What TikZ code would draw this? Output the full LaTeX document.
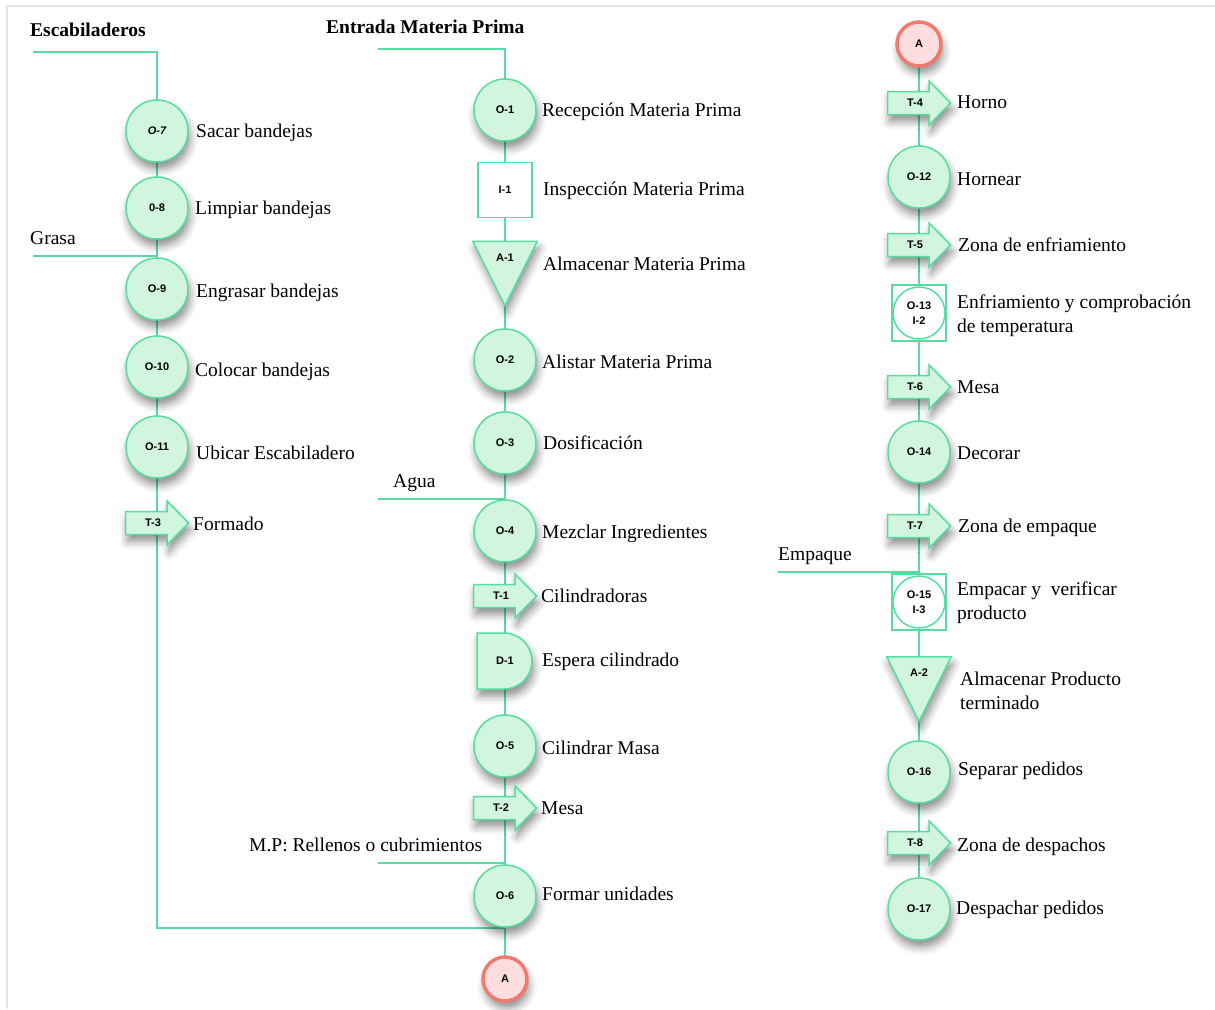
\documentclass[tikz,border=0pt]{standalone}
\usepackage{fontspec}
\setmainfont{Liberation Serif}
\newfontfamily\tagfont{Liberation Sans}
\usetikzlibrary{backgrounds,shadows.blur}

\definecolor{flowline}{RGB}{86,222,160}
\definecolor{flowfill}{RGB}{210,245,222}
\definecolor{linkfill}{RGB}{253,221,221}
\definecolor{linkline}{RGB}{240,122,110}
\definecolor{framegray}{RGB}{228,228,228}

\tikzset{
  x=1pt, y=-1pt,
  flow/.style={draw=flowline, line width=1.5pt},
  softshadow/.style={blur shadow={shadow xshift=2pt, shadow yshift=-7pt,
      shadow blur radius=8pt, shadow opacity=45}},
  tagtxt/.style={font=\tagfont\bfseries\fontsize{11}{15}\selectfont,
      inner sep=0pt, align=center},
  opcircle/.style={circle, draw=flowline, fill=flowfill, line width=1.5pt,
      minimum size=62pt, inner sep=0pt, tagtxt, softshadow},
  inspbox/.style={rectangle, draw=flowline, fill=white, line width=1.5pt,
      minimum width=54pt, minimum height=55pt, inner sep=0pt, tagtxt},
  tbox/.style={rectangle, minimum width=63pt, minimum height=44pt, inner sep=0pt},
  arrowshape/.style={draw=flowline, fill=flowfill, line width=1.5pt,
      line join=miter, softshadow},
  linkcircle/.style={circle, draw=linkline, fill=linkfill, line width=3.5pt,
      minimum size=44pt, inner sep=0pt, tagtxt, softshadow},
  lbl/.style={anchor=mid west, inner sep=0pt, yshift=-4.5pt,
      font=\fontsize{19.5}{24}\selectfont},
  lbltwo/.style={anchor=west, inner sep=0pt, align=left, yshift=-2pt,
      font=\fontsize{19.5}{24}\selectfont},
  title/.style={anchor=mid west, inner sep=0pt, yshift=-4.5pt,
      font=\bfseries\fontsize{19.5}{24}\selectfont},
}

% transport arrow: name, position, tag
\newcommand\transport[3]{%
  \node[tbox] (#1) at (#2) {};
  \begin{scope}[shift={(#1.center)}]
    \filldraw[arrowshape] (-31.5,-11.5) -- (10,-11.5) -- (10,-22) -- (31.5,0)
      -- (10,22) -- (10,11.5) -- (-31.5,11.5) -- cycle;
  \end{scope}
  \node[tagtxt] (#1tag) at ([xshift=-4pt]#1.center) {#3};
}

% storage triangle: name, position, tag
\newcommand\storage[3]{%
  \node[rectangle, minimum width=64pt, minimum height=64pt, inner sep=0pt] (#1) at (#2) {};
  \filldraw[arrowshape] (#1.north west) -- (#1.north east) -- (#1.south) -- cycle;
  \node[tagtxt] (#1tag) at ([yshift=-16pt]#1.north) {#3};
}

% operation combined with inspection: name, position, tag
\newcommand\opinsp[3]{%
  \node[inspbox, minimum height=56pt] (#1) at (#2) {};
  \draw[flow, fill=white] (#1.center) circle[radius=26];
  \node[tagtxt] (#1tag) at (#1.center) {#3};
}

\begin{document}
\begin{tikzpicture}
\useasboundingbox (0,0) rectangle (1215,1009);
\draw[framegray, line width=2pt] (7,1009) -- (7,6) -- (1215,6);

% ---------- column 1: escabiladeros ----------
\node[title] (tesc) at (30,30) {Escabiladeros};
\coordinate (esc) at (33,52);
\node[opcircle] (o7)  at (157,131) {\itshape O-7};
\node[opcircle] (o8)  at (157,208) {0-8};
\node[opcircle] (o9)  at (157,289) {O-9};
\node[opcircle] (o10) at (157,367) {O-10};
\node[opcircle] (o11) at (157,447) {O-11};
\transport{t3}{157,523}{T-3}
\node[lbl] (lo7)  at (196,131) {Sacar bandejas};
\node[lbl] (lo8)  at (195,208) {Limpiar bandejas};
\node[lbl] (lo9)  at (196,291) {Engrasar bandejas};
\node[lbl] (lo10) at (195,370) {Colocar bandejas};
\node[lbl] (lo11) at (196,453) {Ubicar Escabiladero};
\node[lbl] (lt3)  at (193,524) {Formado};
\node[lbl] (lgrasa) at (30,238) {Grasa};
\coordinate (grasa) at (33,256);

% ---------- column 2: materia prima ----------
\node[title] (tent) at (326,27) {Entrada Materia Prima};
\coordinate (ent) at (378,49);
\node[opcircle] (o1) at (505,110) {O-1};
\node[inspbox] (i1) at (505,190) {I-1};
\storage{a1}{505,273.5}{A-1}
\node[opcircle] (o2) at (505,360) {O-2};
\node[opcircle] (o3) at (505,443) {O-3};
\node[opcircle] (o4) at (505,531) {O-4};
\transport{t1}{505,596}{T-1}
\node[rectangle, minimum width=56pt, minimum height=56pt, inner sep=0pt] (d1) at (505,661) {};
\begin{scope}[shift={(d1.center)}]
  \filldraw[arrowshape] (-28,-28) -- (-1,-28) arc[start angle=-90, end angle=90, radius=28]
    -- (-28,28) -- cycle;
\end{scope}
\node[tagtxt] (d1tag) at (d1.center) {D-1};
\node[opcircle] (o5) at (505,746) {O-5};
\transport{t2}{505,808}{T-2}
\node[opcircle] (o6) at (505,896) {O-6};
\node[linkcircle] (ca) at (505,979) {A};

\node[lbl] (lo1) at (542,110) {Recepción Materia Prima};
\node[lbl] (li1) at (543,189) {Inspección Materia Prima};
\node[lbl] (la1) at (543,264) {Almacenar Materia Prima};
\node[lbl] (lo2) at (542,362) {Alistar Materia Prima};
\node[lbl] (lo3) at (543,443) {Dosificación};
\node[lbl] (lo4) at (542,532) {Mezclar Ingredientes};
\node[lbl] (lt1) at (541,596) {Cilindradoras};
\node[lbl] (ld1) at (542,660) {Espera cilindrado};
\node[lbl] (lo5) at (542,748) {Cilindrar Masa};
\node[lbl] (lt2) at (541,808) {Mesa};
\node[lbl] (lo6) at (542,894) {Formar unidades};
\node[lbl] (lagua) at (393,481) {Agua};
\coordinate (agua) at (378,499);
\node[lbl] (lmp) at (249,845) {M.P: Rellenos o cubrimientos};
\coordinate (mp) at (378,863);

% ---------- column 3: horneado y despacho ----------
\node[linkcircle] (cb) at (919,44) {A};
\transport{t4}{919,103}{T-4}
\node[opcircle] (o12) at (919,177) {O-12};
\transport{t5}{919,245}{T-5}
\opinsp{oi2}{919,313}{O-13\\I-2}
\transport{t6}{919,387}{T-6}
\node[opcircle] (o14) at (919,452) {O-14};
\transport{t7}{919,526}{T-7}
\opinsp{oi3}{919,602}{O-15\\I-3}
\storage{a2}{919,689}{A-2}
\node[opcircle] (o16) at (919,772) {O-16};
\transport{t8}{919,843}{T-8}
\node[opcircle] (o17) at (919,909) {O-17};

\node[lbl] (lt4)  at (957,102) {Horno};
\node[lbl] (lo12) at (957,179) {Hornear};
\node[lbl] (lt5)  at (958,245) {Zona de enfriamiento};
\node[lbltwo] (loi2) at (957,313.6) {Enfriamiento y comprobación\strut\\de temperatura\strut};
\node[lbl] (lt6)  at (957,387) {Mesa};
\node[lbl] (lo14) at (957,453) {Decorar};
\node[lbl] (lt7)  at (958,526) {Zona de empaque};
\node[lbltwo] (loi3) at (957,600.6) {Empacar y \ verificar\strut\\producto\strut};
\node[lbltwo] (la2) at (960,690.6) {Almacenar Producto\strut\\terminado\strut};
\node[lbl] (lo16) at (958,769) {Separar pedidos};
\node[lbl] (lt8)  at (957,845) {Zona de despachos};
\node[lbl] (lo17) at (956,908) {Despachar pedidos};
\node[lbl] (lemp) at (778,554) {Empaque};
\coordinate (emp) at (778,572);

% ---------- flow lines ----------
\begin{scope}[on background layer]
  \draw[flow] (esc) -| (o7.center) -- (o8.center) -- (o9.center) -- (o10.center)
    -- (o11.center) -- (t3.center) |- (o6.south);
  \draw[flow] (grasa) -- (grasa -| o9.center);
  \draw[flow] (ent) -| (o1.center) -- (i1.center) -- (a1.center) -- (o2.center)
    -- (o3.center) -- (o4.center) -- (t1.center) -- (d1.center) -- (o5.center)
    -- (t2.center) -- (o6.center) -- (ca.center);
  \draw[flow] (agua) -- (agua -| o4.center);
  \draw[flow] (mp) -- (mp -| o6.center);
  \draw[flow] (cb.center) -- (t4.center) -- (o12.center) -- (t5.center) -- (oi2.center)
    -- (t6.center) -- (o14.center) -- (t7.center) -- (oi3.center) -- (a2.center)
    -- (o16.center) -- (t8.center) -- (o17.center);
  \draw[flow] (emp) -- (emp -| oi3.center);
\end{scope}
\end{tikzpicture}
\end{document}
